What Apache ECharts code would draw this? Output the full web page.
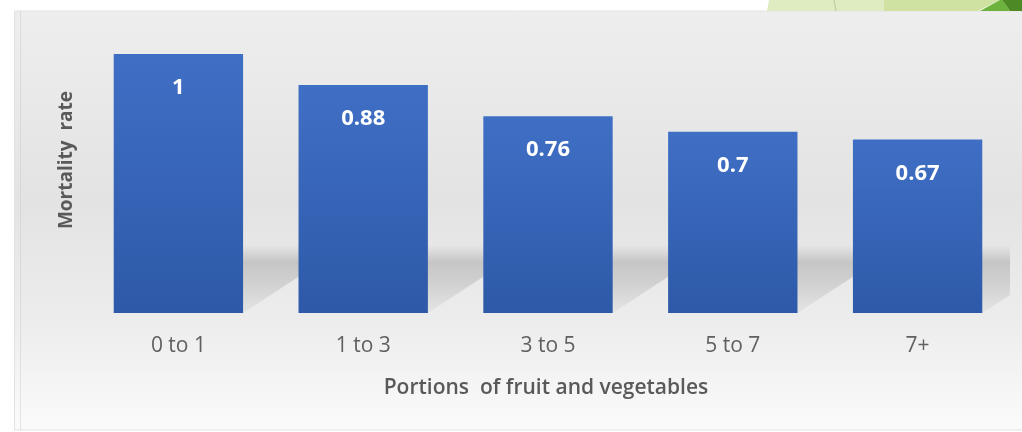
<!DOCTYPE html>
<html>
<head>
<meta charset="utf-8">
<script src="https://cdn.jsdelivr.net/npm/echarts@6/dist/echarts.min.js"></script>
<style>
  html, body { margin: 0; padding: 0; background: #ffffff; }
  #chart { width: 1022px; height: 432px; }
</style>
</head>
<body>
<div id="chart"></div>
<script>
// Relative mortality by daily portions of fruit and vegetables
const categories = ['0 to 1', '1 to 3', '3 to 5', '5 to 7', '7+'];
const mortality = [1, 0.88, 0.76, 0.7, 0.67];
const xTitle = 'Portions  of fruit and vegetables';
const yTitle = 'Mortality  rate';

const chart = echarts.init(document.getElementById('chart'), null, { renderer: 'canvas' });

const GRID = { left: 86, right: 12, top: 54, bottom: 119 };
const BAR_GAP = 0.3;   // fraction of the category band left empty

// Soft perspective shadow cast up and to the right from each bar's base
function renderShadow(params, api) {
  const i = api.value(0);
  const base = api.coord([i, 0]);
  const band = api.size([1, 0])[0];
  const w = band * (1 - BAR_GAP);
  const x0 = base[0] - w / 2;
  const x1 = base[0] + w / 2;
  const y0 = base[1];
  const h = 68, dx = 104;
  return {
    type: 'polygon',
    shape: { points: [[x0, y0], [x1, y0], [x1 + dx, y0 - h], [x0 + dx, y0 - h]] },
    style: {
      fill: new echarts.graphic.LinearGradient(0, 0, 0, 1, [
        { offset: 0, color: 'rgba(0,0,0,0)' },
        { offset: 0.25, color: 'rgba(0,0,0,0.15)' },
        { offset: 0.6, color: 'rgba(0,0,0,0.10)' },
        { offset: 1, color: 'rgba(0,0,0,0.03)' }
      ])
    }
  };
}

const option = {
  animation: false,
  backgroundColor: '#ffffff',
  graphic: [
    // chart panel with soft vertical gradient
    {
      type: 'rect', z: -10, silent: true,
      shape: { x: 14.5, y: 11, width: 1010, height: 419 },
      style: {
        fill: new echarts.graphic.LinearGradient(0, 0, 0, 1, [
          { offset: 0, color: '#eeeeee' },
          { offset: 0.45, color: '#e3e3e3' },
          { offset: 0.75, color: '#ededed' },
          { offset: 1, color: '#fbfbfb' }
        ]),
        stroke: '#e2e2e2', lineWidth: 1
      }
    },
    {
      type: 'line', z: -9, silent: true,
      shape: { x1: 20.5, y1: 11, x2: 20.5, y2: 430 },
      style: { stroke: 'rgba(200,200,200,0.45)', lineWidth: 1 }
    },
    // green slide decoration along the top edge
    {
      type: 'polygon', z: -5, silent: true,
      shape: { points: [[769, 0], [884, 0], [884, 11], [767, 11]] },
      style: { fill: '#dfecc2' }
    },
    {
      type: 'line', z: -4, silent: true,
      shape: { x1: 834, y1: 0, x2: 836, y2: 11 },
      style: { stroke: '#b9c59e', lineWidth: 1 }
    },
    {
      type: 'polygon', z: -5, silent: true,
      shape: { points: [[884, 0], [1000, 0], [978, 11], [884, 11]] },
      style: { fill: '#d0e2a1' }
    },
    {
      type: 'polygon', z: -5, silent: true,
      shape: { points: [[1000, 0], [1002, 0], [1010, 11], [980, 11]] },
      style: { fill: '#6eb23e' }
    },
    {
      type: 'polygon', z: -5, silent: true,
      shape: { points: [[1002, 0], [1022, 0], [1022, 11], [1010, 11]] },
      style: { fill: '#4e8a24' }
    },
    {
      type: 'text', z: 5, silent: true,
      rotation: Math.PI / 2,
      x: 67, y: 160,
      style: {
        text: yTitle, fill: '#595959',
        font: 'bold 19px "Open Sans", sans-serif',
        align: 'center', verticalAlign: 'middle'
      }
    },
    {
      type: 'text', z: 5, silent: true,
      x: 546, y: 388,
      style: {
        text: xTitle, fill: '#595959',
        font: '600 21px "Open Sans", sans-serif',
        align: 'center', verticalAlign: 'middle'
      }
    }
  ],
  grid: GRID,
  xAxis: {
    type: 'category',
    data: categories,
    axisLine: { show: false },
    axisTick: { show: false },
    axisLabel: {
      color: '#606060', fontSize: 21, margin: 23,
      fontFamily: '"Open Sans", sans-serif'
    }
  },
  yAxis: {
    type: 'value', min: 0, max: 1,
    show: false,
    splitLine: { show: false }
  },
  series: [
    {
      type: 'custom',
      z: 1,
      clip: true,
      silent: true,
      renderItem: renderShadow,
      encode: { x: 0, y: 1 },
      data: mortality.map((v, i) => [i, v])
    },
    {
      type: 'bar',
      z: 3,
      data: mortality,
      barCategoryGap: '30%',
      itemStyle: {
        color: new echarts.graphic.LinearGradient(0, 0, 0, 1, [
          { offset: 0, color: '#3f6fc5' },
          { offset: 1, color: '#2e59a8' }
        ])
      },
      label: {
        show: true, position: 'insideTop', distance: 23,
        color: '#ffffff', fontSize: 22, fontWeight: 'bold',
        fontFamily: '"Open Sans", sans-serif'
      }
    }
  ]
};

chart.setOption(option);
</script>
</body>
</html>
